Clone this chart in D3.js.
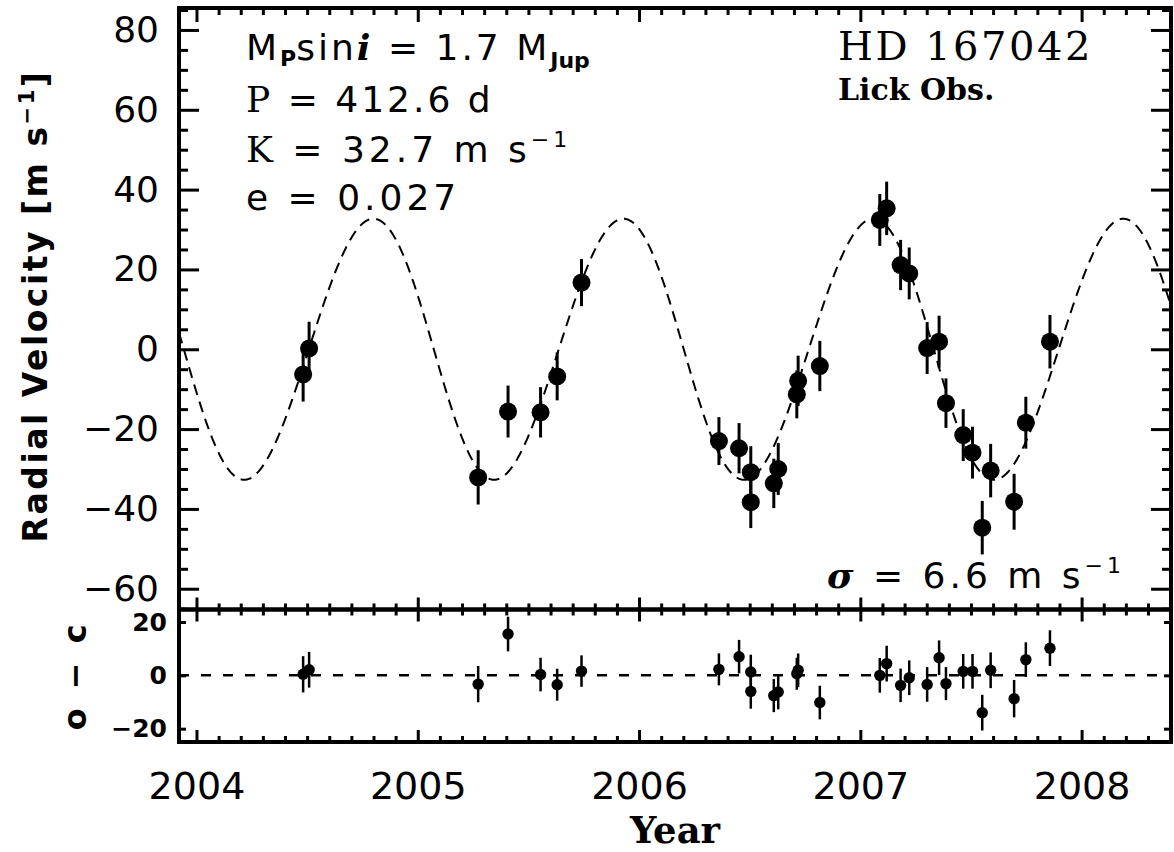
<!DOCTYPE html>
<html>
<head>
<meta charset="utf-8">
<script src="https://cdn.jsdelivr.net/npm/d3@7"></script>
<style>
  body { margin: 0; background: #fff; }
  text { white-space: pre; }
  .slab { font-family: 'DejaVu Serif', serif; font-weight: bold; }
</style>
</head>
<body>
<svg id="chart" width="1174" height="852"></svg>
<script>
const years = [2004.482, 2004.509, 2005.273, 2005.408, 2005.555, 2005.630, 2005.740,
  2006.361, 2006.452, 2006.505, 2006.505, 2006.609, 2006.629, 2006.713, 2006.719, 2006.817,
  2007.088, 2007.119, 2007.182, 2007.221, 2007.302, 2007.356, 2007.387, 2007.465, 2007.507,
  2007.551, 2007.589, 2007.695, 2007.748, 2007.857];
// radial velocities (m/s)
const rv = [-6.3, 0.2, -32.1, -15.6, -15.8, -6.8, 16.7,
  -23.0, -24.8, -30.8, -38.3, -33.6, -30.0, -11.3, -7.9, -4.2,
  32.4, 35.3, 21.1, 19.0, 0.3, 1.9, -13.5, -21.5, -25.9,
  -44.7, -30.4, -38.2, -18.4, 1.9];
// error bars (m/s)
const rvErr = [6.8, 6.7, 6.8, 6.5, 6.3, 6.0, 5.9,
  6.0, 6.3, 6.5, 6.5, 6.2, 6.5, 6.0, 6.3, 6.3,
  6.5, 6.7, 6.3, 6.5, 6.5, 6.5, 6.2, 6.5, 6.5,
  6.7, 6.7, 7.0, 6.5, 6.7];
// o - c residuals (m/s)
const resid = [0.4, 2.1, -3.3, 15.5, 0.3, -3.5, 1.6,
  2.25, 7.0, 1.25, -6.0, -7.6, -6.25, 0.6, 1.9, -10.2,
  0.0, 4.4, -3.75, -0.9, -3.4, 6.6, -3.1, 1.5, 1.5,
  -14.0, 1.9, -8.75, 5.9, 10.2];

const yearTicks = [2004, 2005, 2006, 2007, 2008];
const rvTicks = [-60, -40, -20, 0, 20, 40, 60, 80];
const residTicks = [-20, 0, 20];

// orbit fit shown in the panel
const orbit = { P: 412.6, K: 32.7, e: 0.027, omega: Math.PI / 2, tPeak: 2004.79 };

const svg = d3.select('#chart');
const left = 179, right = 1171, mTop = 8, mid = 609.5, bottom = 742;

const x = d3.scaleLinear().domain([2003.921, 2008.404]).range([left, right]);
const y = d3.scaleLinear().domain([-65.2, 85.5]).range([mid, mTop]);
const yr = d3.scaleLinear().domain([-25, 24.7]).range([bottom, mid]);

const fmt = d => d < 0 ? '\u2212' + (-d) : String(d);

// keplerian curve from the fitted parameters
const Pyr = orbit.P / 365.25;
const tPeri = orbit.tPeak + Pyr / 4;
function model(t) {
  let M = 2 * Math.PI * (t - tPeri) / Pyr;
  let E = M;
  for (let i = 0; i < 20; i++) E = E - (E - orbit.e * Math.sin(E) - M) / (1 - orbit.e * Math.cos(E));
  let nu = 2 * Math.atan(Math.sqrt((1 + orbit.e) / (1 - orbit.e)) * Math.tan(E / 2));
  return orbit.K * (Math.cos(nu + orbit.omega) + orbit.e * Math.cos(orbit.omega));
}

function drawAxis(axis, tx, ty) {
  const g = svg.append('g').attr('transform', `translate(${tx},${ty})`).call(axis);
  g.select('.domain').remove();
  g.selectAll('line').attr('stroke', '#000').attr('stroke-width', 3);
  g.attr('font-family', null).attr('font-size', null);
  return g;
}

const minorX = d3.range(20039, 20085).map(d => d / 10)
  .filter(d => d >= x.domain()[0] && d <= x.domain()[1] && Math.abs(d - Math.round(d)) > 0.01);
const minorY = d3.range(-65, 86, 5).filter(d => d % 20 !== 0);

// ---- main panel ticks
const yl = drawAxis(d3.axisLeft(y).tickValues(rvTicks).tickSizeInner(-20).tickSizeOuter(0)
  .tickPadding(20).tickFormat(fmt), left, 0);
yl.selectAll('text').attr('font-family', 'DejaVu Sans').attr('font-size', 36).attr('fill', '#000');
drawAxis(d3.axisLeft(y).tickValues(minorY).tickSizeInner(-9).tickSizeOuter(0).tickFormat(''), left, 0);
drawAxis(d3.axisRight(y).tickValues(rvTicks).tickSizeInner(-20).tickSizeOuter(0).tickFormat(''), right, 0);
drawAxis(d3.axisRight(y).tickValues(minorY).tickSizeInner(-9).tickSizeOuter(0).tickFormat(''), right, 0);
drawAxis(d3.axisTop(x).tickValues(yearTicks).tickSizeInner(-14).tickSizeOuter(0).tickFormat(''), 0, mTop);
drawAxis(d3.axisTop(x).tickValues(minorX).tickSizeInner(-7).tickSizeOuter(0).tickFormat(''), 0, mTop);
drawAxis(d3.axisBottom(x).tickValues(yearTicks).tickSizeInner(-12).tickSizeOuter(0).tickFormat(''), 0, mid);
drawAxis(d3.axisBottom(x).tickValues(minorX).tickSizeInner(-6).tickSizeOuter(0).tickFormat(''), 0, mid);

// ---- residual panel ticks
drawAxis(d3.axisTop(x).tickValues(yearTicks).tickSizeInner(-12).tickSizeOuter(0).tickFormat(''), 0, mid);
drawAxis(d3.axisTop(x).tickValues(minorX).tickSizeInner(-6).tickSizeOuter(0).tickFormat(''), 0, mid);
const xb = drawAxis(d3.axisBottom(x).tickValues(yearTicks).tickSizeInner(-12).tickSizeOuter(0)
  .tickPadding(30).tickFormat(d3.format('d')), 0, bottom);
xb.selectAll('text').attr('font-family', 'DejaVu Sans').attr('font-size', 38).attr('fill', '#000');
drawAxis(d3.axisBottom(x).tickValues(minorX).tickSizeInner(-6).tickSizeOuter(0).tickFormat(''), 0, bottom);
const rl = drawAxis(d3.axisLeft(yr).tickValues(residTicks).tickSizeInner(-7).tickSizeOuter(0)
  .tickPadding(12).tickFormat(fmt), left, 0);
rl.selectAll('text').attr('font-family', 'DejaVu Sans').attr('font-weight', 'bold')
  .attr('font-size', 25).attr('fill', '#000');
drawAxis(d3.axisRight(yr).tickValues(residTicks).tickSizeInner(-7).tickSizeOuter(0).tickFormat(''), right, 0);

// frames
svg.append('rect').attr('x', left).attr('y', mTop).attr('width', right - left).attr('height', mid - mTop)
  .attr('fill', 'none').attr('stroke', '#000').attr('stroke-width', 4);
svg.append('rect').attr('x', left).attr('y', mid).attr('width', right - left).attr('height', bottom - mid)
  .attr('fill', 'none').attr('stroke', '#000').attr('stroke-width', 4);

// model curve
const tGrid = d3.range(x.domain()[0], x.domain()[1], 0.002);
svg.append('path')
  .attr('d', d3.line().x(t => x(t)).y(t => y(model(t)))(tGrid))
  .attr('fill', 'none').attr('stroke', '#000').attr('stroke-width', 2)
  .attr('stroke-dasharray', '11,7');

// zero line in residuals
svg.append('line').attr('x1', left).attr('x2', right).attr('y1', yr(0)).attr('y2', yr(0))
  .attr('stroke', '#000').attr('stroke-width', 2.5).attr('stroke-dasharray', '10,12');

// data points
const pts = years.map((t, i) => ({ t, v: rv[i], err: rvErr[i], r: resid[i] }));
const gMain = svg.append('g');
gMain.selectAll('line').data(pts).join('line')
  .attr('x1', d => x(d.t)).attr('x2', d => x(d.t))
  .attr('y1', d => y(d.v - d.err)).attr('y2', d => y(d.v + d.err))
  .attr('stroke', '#000').attr('stroke-width', 3);
gMain.selectAll('circle').data(pts).join('circle')
  .attr('cx', d => x(d.t)).attr('cy', d => y(d.v)).attr('r', 9).attr('fill', '#000');

const gRes = svg.append('g');
gRes.selectAll('line').data(pts).join('line')
  .attr('x1', d => x(d.t)).attr('x2', d => x(d.t))
  .attr('y1', d => yr(d.r - d.err)).attr('y2', d => yr(d.r + d.err))
  .attr('stroke', '#000').attr('stroke-width', 2.5);
gRes.selectAll('circle').data(pts).join('circle')
  .attr('cx', d => x(d.t)).attr('cy', d => yr(d.r)).attr('r', 5.7).attr('fill', '#000');

// axis titles
svg.append('text').attr('transform', 'translate(47,306) rotate(-90)')
  .attr('text-anchor', 'middle').attr('font-family', 'DejaVu Sans').attr('font-weight', 'bold')
  .attr('font-size', 33).attr('letter-spacing', 2.5)
  .html('Radial Velocity [m s<tspan font-size="21" dy="-13">\u22121</tspan><tspan dy="13">]</tspan>');
svg.append('text').attr('transform', `translate(86,${yr(0)}) rotate(-90)`)
  .attr('text-anchor', 'middle').attr('font-family', 'DejaVu Sans').attr('font-weight', 'bold')
  .attr('font-size', 32).attr('letter-spacing', 4).text('o \u2212 c');
svg.append('text').attr('class', 'slab').attr('x', (left + right) / 2).attr('y', 843)
  .attr('text-anchor', 'middle').attr('font-size', 37).text('Year');

// annotations
const ann = svg.append('g').attr('font-family', 'DejaVu Sans').attr('font-size', 36)
  .attr('letter-spacing', 3).attr('fill', '#000');
ann.append('text').attr('x', 246).attr('y', 60)
  .html('M<tspan font-size="22" font-weight="bold" dy="6" letter-spacing="0">P</tspan><tspan dy="-6">sin</tspan><tspan font-family="DejaVu Serif" font-style="italic" font-weight="bold">i</tspan> = 1.7 M<tspan font-size="22" font-weight="bold" dy="8" letter-spacing="0">Jup</tspan>');
ann.append('text').attr('x', 246).attr('y', 112)
  .html('<tspan font-family="DejaVu Serif">P</tspan> = 412.6 d');
ann.append('text').attr('x', 246).attr('y', 162).attr('letter-spacing', 4)
  .html('<tspan font-family="DejaVu Serif">K</tspan> = 32.7 m s<tspan font-size="22" dy="-15">\u22121</tspan>');
ann.append('text').attr('x', 246).attr('y', 210).attr('letter-spacing', 4).text('e = 0.027');

svg.append('text').attr('x', 838).attr('y', 60).attr('font-family', 'DejaVu Serif')
  .attr('font-size', 40).attr('letter-spacing', 2.5).text('HD 167042');
svg.append('text').attr('class', 'slab').attr('x', 838).attr('y', 100)
  .attr('font-size', 30).text('Lick Obs.');

ann.append('text').attr('x', 827).attr('y', 588).attr('letter-spacing', 4)
  .html('<tspan font-family="DejaVu Serif" font-style="italic" font-weight="bold">\u03c3</tspan> = 6.6 m s<tspan font-size="22" dy="-15">\u22121</tspan>');
</script>
</body>
</html>
